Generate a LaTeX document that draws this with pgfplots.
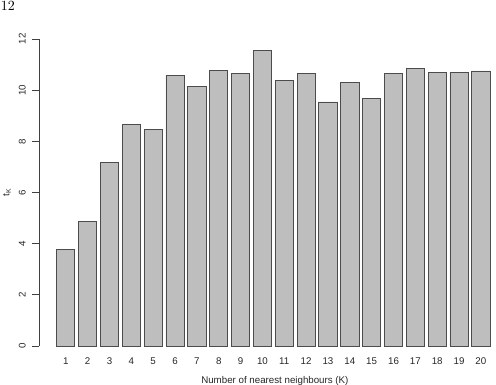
\documentclass[border=0pt]{standalone}
\usepackage{fontspec}
\usepackage{pgfplots}
\pgfplotsset{compat=1.18}
\newfontfamily\arial{Liberation Sans}
\definecolor{barfill}{HTML}{BEBEBE}
\begin{document}
\arial
\begin{tikzpicture}
\useasboundingbox (0,0) rectangle (372pt,288.75pt);
\node[anchor=north west, inner sep=0pt, font=\rmfamily\fontsize{10.5}{12}\selectfont] at (0.5pt,288pt) {12};
\begin{axis}[
  at={(29.55pt,29.25pt)}, anchor=south west,
  scale only axis, width=340.95pt, height=230.25pt,
  xmin=-0.208, xmax=20.6, ymin=0, ymax=12,
  axis lines*=left, separate axis lines,
  x axis line style={draw=none},
  y axis line style={draw=black!75, line width=0.5pt},
  xtick={1,...,20}, xtick style={draw=none},
  xticklabels={1,2,3,4,5,6,7,8,9,10,11,12,13,14,15,16,17,18,19,20},
  ytick={0,2,4,6,8,10,12},
  ytick style={draw=black!75, line width=0.5pt},
  tick align=outside, major tick length=5.25pt,
  /pgf/number format/assume math mode=true,
  tick label style={font=\arial\fontsize{7.3}{8}\selectfont, text=black!85},
  xticklabel style={anchor=north, inner sep=0pt, yshift=-3.2pt},
  yticklabel style={xshift=-4.8pt, rotate=90, anchor=south, inner sep=0pt},
  xlabel={Number of nearest neighbours (K)},
  ylabel={t\textsubscript{K}},
  every axis x label/.style={at={(axis description cs:0.518,0)}, anchor=center, yshift=-26.3pt, font=\arial\fontsize{7.3}{8}\selectfont, text=black!85},
  every axis y label/.style={at={(axis description cs:0,0.5)}, xshift=-24.3pt, rotate=90, anchor=center, font=\arial\fontsize{7.3}{8}\selectfont, text=black!85},
  clip=false,
]
\addplot[ybar, bar width=0.8333, fill=barfill, draw=black!70, line width=0.6pt] coordinates {
(1,3.76) (2,4.86) (3,7.16) (4,8.67) (5,8.45) (6,10.59) (7,10.16) (8,10.76) (9,10.66) (10,11.54)
(11,10.37) (12,10.65) (13,9.54) (14,10.31) (15,9.66) (16,10.64) (17,10.85) (18,10.69) (19,10.70) (20,10.75)
};
\end{axis}
\end{tikzpicture}
\end{document}
